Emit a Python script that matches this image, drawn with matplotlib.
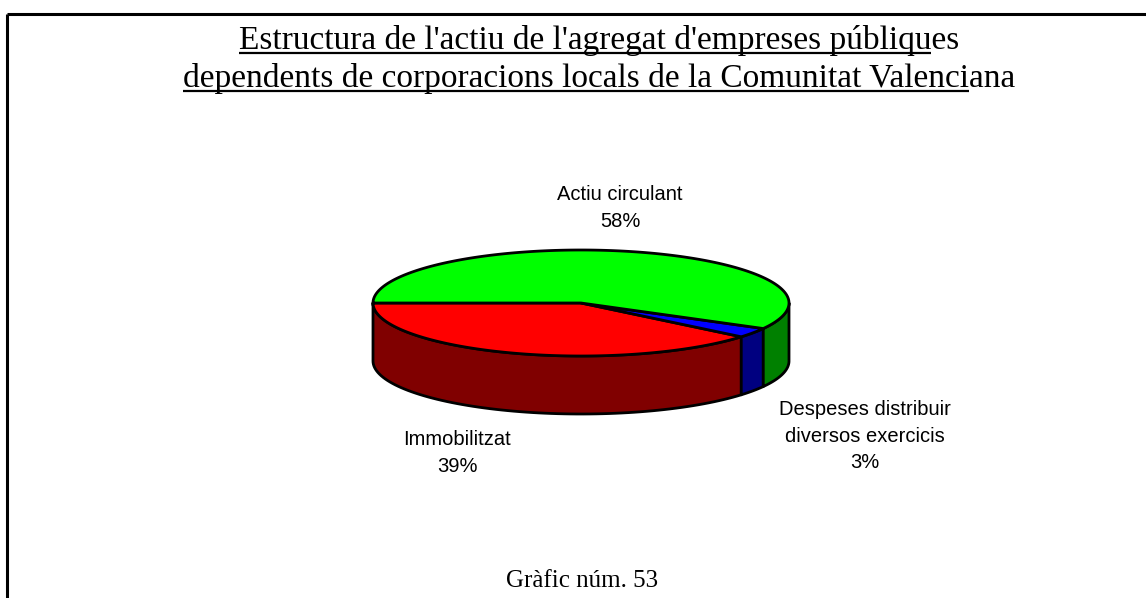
import numpy as np
import matplotlib
matplotlib.use("Agg")
import matplotlib.pyplot as plt
from matplotlib.patches import Polygon

# slice data, in drawing order (counter-clockwise from the left edge)
categories = ["Immobilitzat", "Despeses distribuir\ndiversos exercicis", "Actiu circulant"]
shares = [39, 3, 58]
top_colors = ["#ff0000", "#0000ff", "#00ff00"]
side_colors = ["#800000", "#000080", "#008000"]

title_lines = ["Estructura de l'actiu de l'agregat d'empreses públiques",
               "dependents de corporacions locals de la Comunitat Valenciana"]
underlined = ["Estructura de l'actiu de l'agregat d'empreses públiqu",
              "dependents de corporacions locals de la Comunitat Valenci"]
footer = "Gràfic núm. 53"

W, H = 1146, 598
fig = plt.figure(figsize=(W / 100, H / 100), dpi=100)
ax = fig.add_axes([0, 0, 1, 1])
ax.set_xlim(0, W)
ax.set_ylim(H, 0)
ax.axis("off")

# frame (top and left only)
ax.plot([7, W], [14, 14], color="black", lw=2.2, solid_capstyle="butt")
ax.plot([7, 7], [14, H], color="black", lw=2.2, solid_capstyle="butt")

# pie geometry (screen pixels)
cx, cy = 581, 303
a, b = 208, 53
depth = 58
start = 180.0


def ell(theta, dy=0.0):
    t = np.radians(theta)
    return np.column_stack([cx + a * np.cos(t), cy - b * np.sin(t) + dy])


angles = start + 360.0 * np.concatenate([[0], np.cumsum(shares)]) / sum(shares)

# side walls (front half only: 180..360 degrees)
for i in range(len(shares)):
    t1 = max(angles[i], 180.0)
    t2 = min(angles[i + 1], 360.0)
    if t2 <= t1:
        continue
    th = np.linspace(t1, t2, 80)
    top = ell(th)
    bot = ell(th[::-1], depth)
    ax.add_patch(Polygon(np.vstack([top, bot]), closed=True,
                         facecolor=side_colors[i], edgecolor="black",
                         lw=2, joinstyle="round"))

# top face wedges
for i in range(len(shares)):
    th = np.linspace(angles[i], angles[i + 1], 200)
    pts = np.vstack([[cx, cy], ell(th)])
    ax.add_patch(Polygon(pts, closed=True, facecolor=top_colors[i],
                         edgecolor="black", lw=2, joinstyle="round"))

# slice labels
label_pos = [(457, 453), (865, 436), (620, 208)]
for name, val, (x, y) in zip(categories, shares, label_pos):
    ax.text(x, y, f"{name}\n{val}%", ha="center", va="center",
            fontsize=14.5, family="Liberation Sans", linespacing=1.48)

# title with partial underline
serif = dict(family="Liberation Serif", fontsize=24)
fig.canvas.draw()
renderer = fig.canvas.get_renderer()
for line, part, base in zip(title_lines, underlined, [49, 87]):
    t = ax.text(599, base, line, ha="center", va="baseline", **serif)
    full = t.get_window_extent(renderer)
    p = ax.text(0, base, part, ha="left", va="baseline", **serif)
    pw = p.get_window_extent(renderer).width
    p.remove()
    ax.plot([full.x0, full.x0 + pw], [base + 4, base + 4], color="black",
            lw=1.6, solid_capstyle="butt")

ax.text(582, 587, footer, ha="center", va="baseline", family="Liberation Serif",
        fontsize=18)

fig.savefig("out.png", dpi=100)
